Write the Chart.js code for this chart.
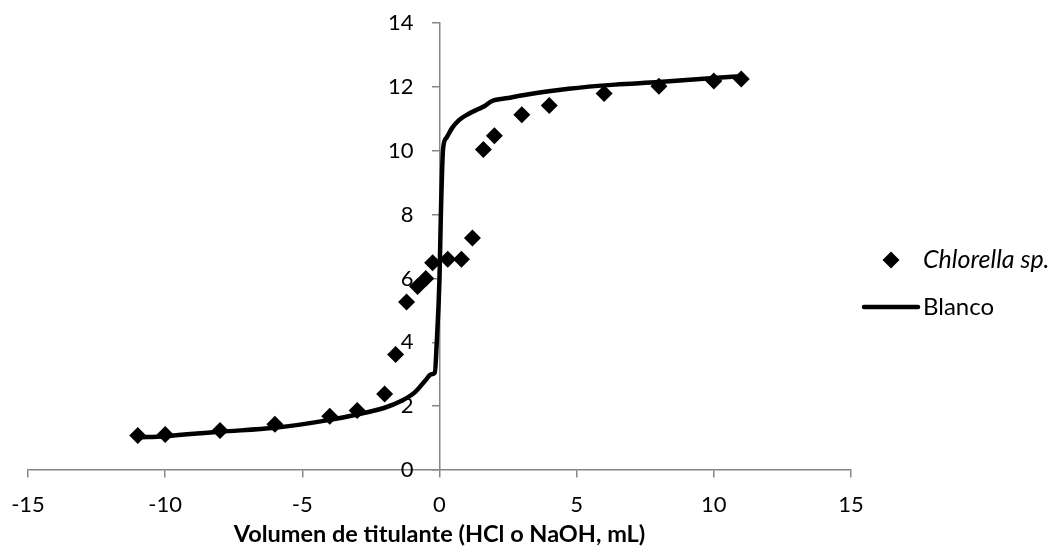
<!DOCTYPE html>
<html>
<head>
<meta charset="utf-8">
<script src="https://cdn.jsdelivr.net/npm/chart.js@4.4.1/dist/chart.umd.min.js"></script>
<style>
  html, body { margin: 0; padding: 0; background: #fff; }
  #wrap { width: 1054px; height: 554px; }
</style>
</head>
<body>
<div id="wrap"><canvas id="titration"></canvas></div>
<script>
// Chlorella sp. points (mL titrant, pH)
const chlorellaX = [-11, -10, -8, -6, -4, -3, -2, -1.6, -1.2, -0.8, -0.5, -0.25, 0.3, 0.8, 1.2, 1.6, 2, 3, 4, 6, 8, 10, 11];
const chlorellaY = [1.08, 1.11, 1.24, 1.43, 1.68, 1.86, 2.38, 3.62, 5.26, 5.75, 6.0, 6.49, 6.6, 6.6, 7.27, 10.04, 10.47, 11.13, 11.42, 11.79, 12.02, 12.18, 12.25];

// Blanco curve
const blancoX = [-11, -10, -8, -6, -4, -3, -2, -1.4, -0.9, -0.5, -0.3, -0.17, -0.1, 0, 0.05, 0.13, 0.25, 0.45, 0.7, 1.05, 1.4, 1.65, 1.9, 2.5, 3.2, 4.7, 6.4, 8, 10, 11];
const blancoY = [1.02, 1.06, 1.2, 1.32, 1.57, 1.74, 1.95, 2.16, 2.43, 2.82, 3.0, 3.05, 4.0, 6.0, 8.0, 10.05, 10.4, 10.7, 10.95, 11.15, 11.3, 11.4, 11.55, 11.65, 11.76, 11.94, 12.07, 12.15, 12.28, 12.33];

const xTicks = [-15, -10, -5, 0, 5, 10, 15];
const yTicks = [0, 2, 4, 6, 8, 10, 12, 14];

const axisGrey = "#868686";
const fontFamily = "Lato, 'Open Sans', sans-serif";

function toPoints(xs, ys) {
  return xs.map((x, i) => ({ x: x, y: ys[i] }));
}

// the axes sit inside the plot, so don't let their labels push the plot area in
function noAxisPadding(scale) {
  scale.paddingTop = 0;
  scale.paddingBottom = 0;
  scale.paddingLeft = 0;
  scale.paddingRight = 0;
}

// legend drawn by hand so the species name can be italic
const sideLegend = {
  id: "sideLegend",
  afterDraw(chart) {
    const ctx = chart.ctx;
    const left = chart.chartArea.right + 12;
    ctx.save();
    ctx.fillStyle = "#000";
    ctx.strokeStyle = "#000";
    // diamond
    const cx = left + 28, cy = 260, r = 8.5;
    ctx.beginPath();
    ctx.moveTo(cx, cy - r);
    ctx.lineTo(cx + r, cy);
    ctx.lineTo(cx, cy + r);
    ctx.lineTo(cx - r, cy);
    ctx.closePath();
    ctx.fill();
    // line
    ctx.lineWidth = 4.5;
    ctx.lineCap = "round";
    ctx.beginPath();
    ctx.moveTo(left + 1, 307);
    ctx.lineTo(left + 55, 307);
    ctx.stroke();
    ctx.textBaseline = "middle";
    ctx.textAlign = "left";
    ctx.font = "italic 25px " + fontFamily;
    ctx.fillText("Chlorella sp.", left + 60, 260);
    ctx.font = "24px " + fontFamily;
    ctx.fillText("Blanco", left + 60, 307);
    ctx.restore();
  }
};

const ctx = document.getElementById("titration").getContext("2d");
new Chart(ctx, {
  type: "scatter",
  data: {
    datasets: [
      {
        label: "Chlorella sp.",
        data: toPoints(chlorellaX, chlorellaY),
        pointStyle: "rectRot",
        pointRadius: 8.5,
        backgroundColor: "#000",
        borderColor: "#000",
        borderWidth: 0,
        showLine: false,
      },
      {
        label: "Blanco",
        data: toPoints(blancoX, blancoY),
        showLine: true,
        pointRadius: 0,
        borderColor: "#000",
        borderWidth: 4.5,
        cubicInterpolationMode: "monotone",
        fill: false,
      },
    ],
  },
  options: {
    responsive: true,
    maintainAspectRatio: false,
    animation: false,
    devicePixelRatio: 1,
    layout: { padding: { left: 28, right: 203, top: 23, bottom: 84 } },
    plugins: {
      legend: { display: false },
      tooltip: { enabled: false },
    },
    scales: {
      x: {
        type: "linear",
        position: { y: 0 },
        min: -15,
        max: 15,
        afterBuildTicks: (scale) => { scale.ticks = xTicks.map((v) => ({ value: v })); },
        afterFit: noAxisPadding,
        grid: { drawOnChartArea: false, drawTicks: true, tickLength: 7, color: axisGrey, lineWidth: 1.5 },
        border: { display: true, color: axisGrey, width: 1.5 },
        ticks: { color: "#000", font: { family: fontFamily, size: 22 }, padding: 15, maxRotation: 0 },
        title: {
          display: true,
          text: "Volumen de titulante (HCl o NaOH, mL)",
          color: "#000",
          font: { family: fontFamily, size: 23.5, weight: "bold" },
          padding: { top: -13, bottom: 0 },
        },
      },
      y: {
        type: "linear",
        // x runs -15..15, so the centre of the plot is x = 0
        position: "center",
        min: 0,
        max: 14,
        afterBuildTicks: (scale) => { scale.ticks = yTicks.map((v) => ({ value: v })); },
        afterFit: noAxisPadding,
        grid: { drawOnChartArea: false, drawTicks: true, tickLength: 7, color: axisGrey, lineWidth: 1.5 },
        border: { display: true, color: axisGrey, width: 1.5 },
        ticks: { color: "#000", font: { family: fontFamily, size: 22 }, padding: 19 },
      },
    },
  },
  plugins: [sideLegend],
});
</script>
</body>
</html>
